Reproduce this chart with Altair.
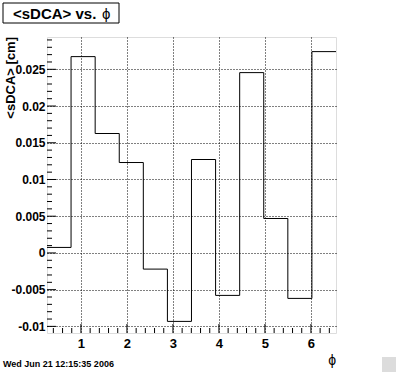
import altair as alt
import pandas as pd
import numpy as np

# Histogram: 12 bins in phi, <sDCA> values
bin_edges = [0.262, 0.785, 1.309, 1.833, 2.356, 2.880, 3.403, 3.927, 4.451, 4.974, 5.498, 6.021, 6.545]
sdca = [0.00075, 0.02673, 0.01626, 0.01231, -0.00220, -0.00932, 0.01272, -0.00578, 0.02455, 0.00469, -0.00619, 0.02741]

x_major = [1, 2, 3, 4, 5, 6]
y_major = [-0.01, -0.005, 0, 0.005, 0.01, 0.015, 0.02, 0.025]
x_minor = [round(v, 1) for v in np.arange(0.4, 6.5, 0.2) if abs(v - round(v)) > 1e-6]
y_minor = [round(v, 3) for v in np.arange(-0.010, 0.0295, 0.001) if abs(v / 0.005 - round(v / 0.005)) > 1e-6]

XDOM = [bin_edges[0], bin_edges[-1]]
YDOM = [-0.0109, 0.0294]
W, H = 289, 296
FONT = "Liberation Sans"

step_df = pd.DataFrame({"phi": bin_edges, "v": sdca + [sdca[-1]]})

xs = alt.Scale(domain=XDOM, nice=False, zero=False)
ys = alt.Scale(domain=YDOM, nice=False, zero=False)

xaxis = alt.Axis(values=x_major, grid=True, gridDash=[1, 2], gridColor="black", gridOpacity=1,
                 ticks=False, domain=False, labelFont=FONT, labelFontWeight="bold", labelFontSize=13,
                 labelColor="black", labelPadding=4, title=None, labelFlush=False)
yaxis = alt.Axis(values=y_major, grid=True, gridDash=[1, 2], gridColor="black", gridOpacity=1,
                 ticks=False, domain=False, labelFont=FONT, labelFontWeight="bold", labelFontSize=12,
                 labelColor="black", labelPadding=2, title=None, labelExpr="'' + datum.value",
                 labelFlush=False)

hist = alt.Chart(step_df).mark_line(interpolate="step-after", color="black", strokeWidth=1, clip=True).encode(
    x=alt.X("phi:Q", scale=xs, axis=xaxis),
    y=alt.Y("v:Q", scale=ys, axis=yaxis),
)

ytick_major = alt.Chart(pd.DataFrame({"y": y_major})).mark_rule(color="black").encode(
    y=alt.Y("y:Q", scale=ys), x=alt.value(0), x2=alt.value(9))
ytick_minor = alt.Chart(pd.DataFrame({"y": y_minor})).mark_rule(color="black").encode(
    y=alt.Y("y:Q", scale=ys), x=alt.value(0), x2=alt.value(5))
xtick_major = alt.Chart(pd.DataFrame({"x": x_major})).mark_rule(color="black").encode(
    x=alt.X("x:Q", scale=xs), y=alt.value(H), y2=alt.value(H - 9))
xtick_minor = alt.Chart(pd.DataFrame({"x": x_minor})).mark_rule(color="black").encode(
    x=alt.X("x:Q", scale=xs), y=alt.value(H), y2=alt.value(H - 5))

one = pd.DataFrame({"a": [0]})
title_box = alt.Chart(one).mark_rect(fill="white", stroke="black", strokeWidth=1).encode(
    x=alt.value(-44), x2=alt.value(72), y=alt.value(-34), y2=alt.value(-14))
title_txt = alt.Chart(one).mark_text(font=FONT, fontWeight="bold", fontSize=15, align="left",
                                     baseline="middle", color="black").encode(
    x=alt.value(-34), y=alt.value(-23.5), text=alt.value("<sDCA> vs."))
title_phi = alt.Chart(one).mark_text(font=FONT, fontWeight="normal", fontSize=15, align="left",
                                     baseline="middle", color="black").encode(
    x=alt.value(55), y=alt.value(-23.5), text=alt.value("ϕ"))
ytitle = alt.Chart(one).mark_text(font=FONT, fontWeight="bold", fontSize=13, align="right",
                                  baseline="middle", angle=270, color="black").encode(
    x=alt.value(-36), y=alt.value(0), text=alt.value("<sDCA> [cm]"))
xtitle = alt.Chart(one).mark_text(font=FONT, fontWeight="normal", fontSize=14, align="right",
                                  baseline="alphabetic", color="black").encode(
    x=alt.value(W), y=alt.value(H + 32), text=alt.value("ϕ"))
date_txt = alt.Chart(one).mark_text(font=FONT, fontWeight="bold", fontSize=9, align="left",
                                    baseline="alphabetic", color="black").encode(
    x=alt.value(-44), y=alt.value(H + 34), text=alt.value("Wed Jun 21 12:15:35 2006"))
corner = alt.Chart(one).mark_rect(fill="#dcdcdc").encode(
    x=alt.value(335), x2=alt.value(349), y=alt.value(H + 24), y2=alt.value(H + 39))

chart = alt.layer(
    hist, ytick_major, ytick_minor, xtick_major, xtick_minor,
    title_box, title_txt, title_phi, ytitle, xtitle, date_txt, corner
).properties(
    width=W, height=H,
    autosize=alt.AutoSizeParams(type="none"),
    padding={"left": 47, "top": 37, "right": 60, "bottom": 39},
).configure_view(stroke="black", strokeWidth=1, fill="white").configure(background="white")

chart.save("out.html", embed_options={"renderer": "svg", "actions": False})
